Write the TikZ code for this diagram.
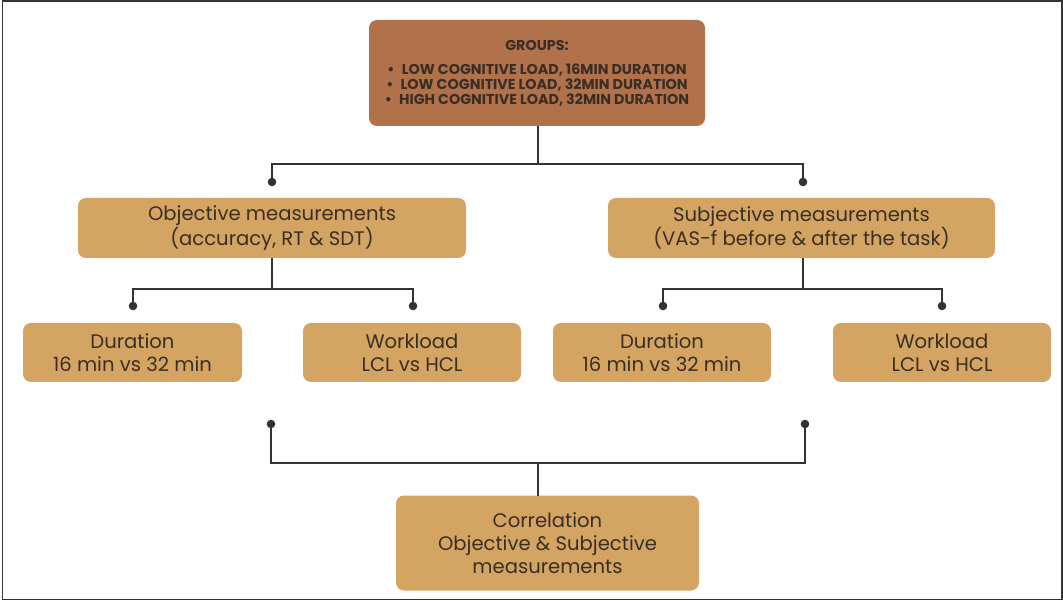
\documentclass[tikz,border=0pt]{standalone}
\usepackage{fontspec}
\setmainfont{Poppins}
\definecolor{topfill}{HTML}{B1714B}
\definecolor{boxfill}{HTML}{D4A463}
\definecolor{txt}{HTML}{3A2E24}
\definecolor{ln}{HTML}{333333}
\tikzset{
  box/.style={rounded corners=8pt, fill=boxfill, draw=none, inner sep=0pt, align=center, text=txt,
              font=\fontsize{19.6}{23}\selectfont},
  conn/.style={draw=ln, line width=1.7pt},
  dotmark/.style={fill=ln, draw=none}
}
\begin{document}
\begin{tikzpicture}[x=1pt,y=-1pt]
\useasboundingbox (0,0) rectangle (1063,601);
\draw[line width=1.6pt, draw=black!80] (2.5,1) rectangle (1062,599.5);

\node[box, fill=topfill, minimum width=336pt, minimum height=106pt,
      font=\bfseries\fontsize{14.3}{15}\selectfont] (groups) at (537,73)
  {GROUPS:\\[9pt]
   •\enspace LOW COGNITIVE LOAD, 16MIN DURATION\\
   •\enspace LOW COGNITIVE LOAD, 32MIN DURATION\\
   •\enspace HIGH COGNITIVE LOAD, 32MIN DURATION};

\node[box, minimum width=388pt, minimum height=60pt] (obj) at (272,228)
  {Objective measurements\\(accuracy, RT \& SDT)};
\node[box, minimum width=387pt, minimum height=60pt] (subj) at (801.5,228)
  {Subjective measurements\\(VAS-f before \& after the task)};

\node[box, minimum width=219pt, minimum height=59pt] (d1) at (132.5,352.5)
  {Duration\\16 min vs 32 min};
\node[box, minimum width=218pt, minimum height=59pt] (w1) at (412,352.5)
  {Workload\\LCL vs HCL};
\node[box, minimum width=218pt, minimum height=59pt] (d2) at (662,352.5)
  {Duration\\16 min vs 32 min};
\node[box, minimum width=218pt, minimum height=59pt] (w2) at (942,352.5)
  {Workload\\LCL vs HCL};

\node[box, minimum width=303pt, minimum height=95pt] (corr) at (547.5,543)
  {Correlation\\Objective \& Subjective\\measurements};

% dot coordinates
\coordinate (pObj) at (272,182);
\coordinate (pSubj) at (803,182);
\coordinate (pD1) at (133,306);
\coordinate (pW1) at (413,306);
\coordinate (pD2) at (663,306);
\coordinate (pW2) at (942,306);
\coordinate (pL) at (271,424);
\coordinate (pR) at (805,424);
\coordinate (sTop) at (538,126);
\coordinate (sBot) at (538,496);

% connectors
\draw[conn] (sTop) -- (538,164) coordinate (hTop);
\draw[conn] (pObj) |- (hTop) -| (pSubj);

\draw[conn] (obj.south -| pObj) -- (272,289) coordinate (hObj);
\draw[conn] (pD1) |- (hObj) -| (pW1);

\draw[conn] (subj.south -| pSubj) -- (803,289) coordinate (hSubj);
\draw[conn] (pD2) |- (hSubj) -| (pW2);

\draw[conn] (pL) |- (538,463) coordinate (hBot) -| (pR);
\draw[conn] (hBot) -- (sBot);

\foreach \p in {pObj,pSubj,pD1,pW1,pD2,pW2,pL,pR}
  \fill[dotmark] (\p) circle (4.3pt);
\end{tikzpicture}
\end{document}
